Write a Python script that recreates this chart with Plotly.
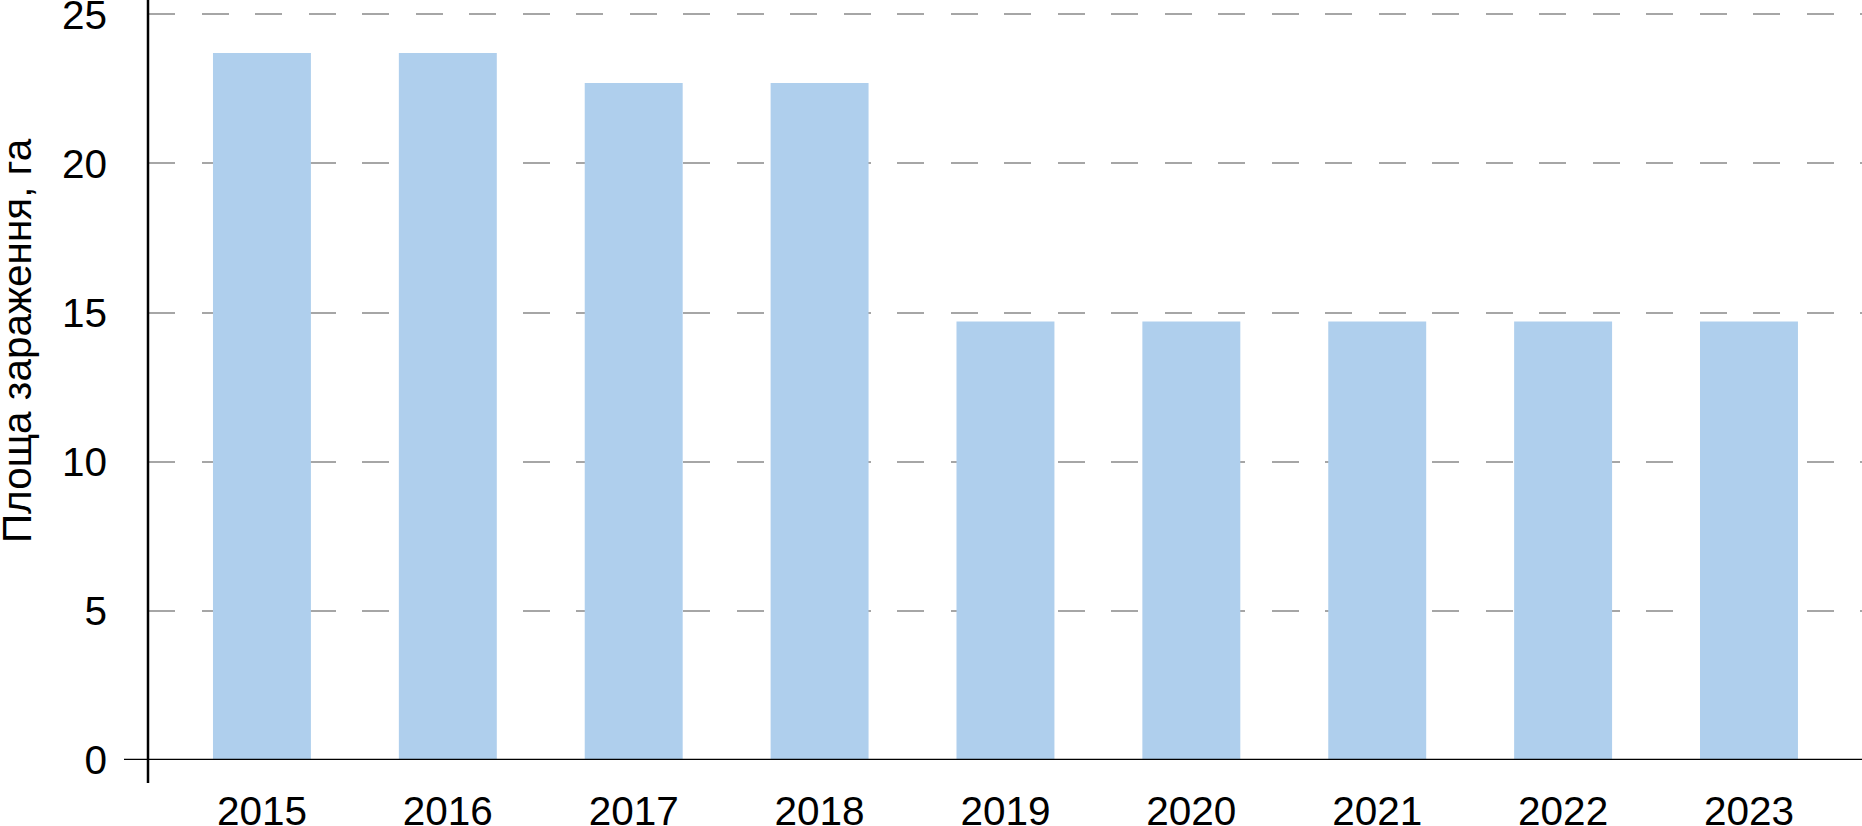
import plotly.graph_objects as go

years = ["2015", "2016", "2017", "2018", "2019", "2020", "2021", "2022", "2023"]
area_ha = [23.7, 23.7, 22.7, 22.7, 14.7, 14.7, 14.7, 14.7, 14.7]
y_ticks = [0, 5, 10, 15, 20, 25]
y_title = "Площа зараження, га"

FONT = "Liberation Sans, Arial, sans-serif"
FS = 40.5

fig = go.Figure(
    go.Bar(x=years, y=area_ha, marker=dict(color="#afcfed", line=dict(width=0)),
           hoverinfo="x+y")
)

fig.update_layout(
    width=1862, height=826,
    margin=dict(l=148, r=0, t=0, b=66, autoexpand=False),
    paper_bgcolor="white", plot_bgcolor="white",
    bargap=0.473,
    showlegend=False,
    font=dict(family=FONT, size=FS, color="black"),
)

fig.update_xaxes(
    type="category", range=[-0.613, 8.608], automargin=False,
    showgrid=False, showline=False, zeroline=False, ticks="",
    tickfont=dict(size=FS, family=FONT, color="black"),
    ticklabelstandoff=23, ticklabeloverflow="allow",
)
fig.update_yaxes(
    range=[0, 25.48], tickvals=y_ticks, automargin=False,
    showgrid=True, gridcolor="#a6a6a6", gridwidth=2, griddash="27px,26.5px",
    showline=False, zeroline=False, ticks="",
    tickfont=dict(size=FS, family=FONT, color="black"),
    ticklabelstandoff=40, ticklabeloverflow="allow",
)

# axis lines (crosshair at origin)
fig.add_shape(type="line", xref="paper", yref="y", x0=-24/1714, x1=1, y0=0, y1=0,
              line=dict(color="black", width=2.5), layer="above")
fig.add_shape(type="line", xref="paper", yref="paper", x0=0, x1=0, y0=-23/760, y1=1,
              line=dict(color="black", width=2.5), layer="above")

fig.add_annotation(text=y_title, xref="paper", yref="paper", x=(17 - 148) / 1714,
                   y=(760 - 341) / 760, textangle=-90, showarrow=False,
                   font=dict(size=FS, family=FONT, color="black"),
                   xanchor="center", yanchor="middle")

fig.write_html("out.html")
